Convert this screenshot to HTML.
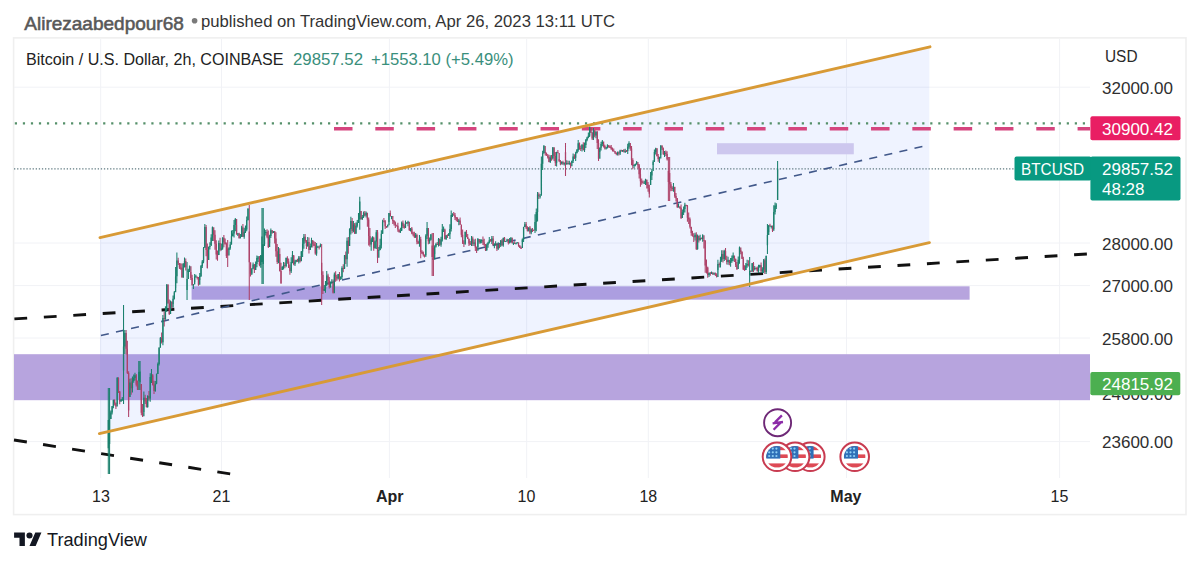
<!DOCTYPE html>
<html><head><meta charset="utf-8"><title>BTCUSD chart</title>
<style>
html,body{margin:0;padding:0;background:#fff;width:1200px;height:564px;overflow:hidden}
svg{display:block}
text{font-family:'Liberation Sans', Arial, sans-serif}
</style></head><body>
<svg width="1200" height="564" viewBox="0 0 1200 564">
<rect width="1200" height="564" fill="#fff"/>

<text x="24.3" y="29.5" font-size="18.4" fill="#585858" stroke="#585858" stroke-width="0.55" textLength="159.5" lengthAdjust="spacingAndGlyphs">Alirezaabedpour68</text>
<circle cx="194.6" cy="20.8" r="2.8" fill="#7a7a7a"/>
<text x="201" y="26.6" font-size="16.4" fill="#333" textLength="414" lengthAdjust="spacingAndGlyphs">published on TradingView.com, Apr 26, 2023 13:11 UTC</text>
<rect x="13.6" y="37.9" width="1172.4" height="476.7" fill="none" stroke="#efefef" stroke-width="1.6"/>
<line x1="100.7" y1="39" x2="100.7" y2="478" stroke="#f1f2f6" stroke-width="1"/>
<line x1="221.5" y1="39" x2="221.5" y2="478" stroke="#f1f2f6" stroke-width="1"/>
<line x1="389.4" y1="39" x2="389.4" y2="478" stroke="#f1f2f6" stroke-width="1"/>
<line x1="526.7" y1="39" x2="526.7" y2="478" stroke="#f1f2f6" stroke-width="1"/>
<line x1="648.3" y1="39" x2="648.3" y2="478" stroke="#f1f2f6" stroke-width="1"/>
<line x1="846.5" y1="39" x2="846.5" y2="478" stroke="#f1f2f6" stroke-width="1"/>
<line x1="1059.6" y1="39" x2="1059.6" y2="478" stroke="#f1f2f6" stroke-width="1"/>
<line x1="14" y1="87.2" x2="1090" y2="87.2" stroke="#f1f2f6" stroke-width="1"/>
<line x1="14" y1="243" x2="1090" y2="243" stroke="#f1f2f6" stroke-width="1"/>
<line x1="14" y1="285.6" x2="1090" y2="285.6" stroke="#f1f2f6" stroke-width="1"/>
<line x1="14" y1="338" x2="1090" y2="338" stroke="#f1f2f6" stroke-width="1"/>
<line x1="14" y1="441.6" x2="1090" y2="441.6" stroke="#f1f2f6" stroke-width="1"/>
<rect x="14" y="354.2" width="1076" height="46" fill="#b7a4de"/>
<rect x="191.6" y="286.3" width="778" height="13.4" fill="#b7a4de"/>
<polygon points="100,237.6 929.3,46.8 929.3,242.6 100,433.6" fill="rgb(41,98,255)" fill-opacity="0.075"/>
<rect x="717" y="143.2" width="136.8" height="11.1" fill="#cdc7ee"/>
<line x1="14" y1="123.3" x2="1090" y2="123.3" stroke="#55906a" stroke-width="2.2" stroke-dasharray="2.2 5.83" stroke-dashoffset="-0.82"/>
<line x1="334" y1="128.8" x2="1090" y2="128.8" stroke="#d5457e" stroke-width="3.6" stroke-dasharray="18.5 22.81"/>
<line x1="14" y1="168.9" x2="1015" y2="168.9" stroke="#5f7a80" stroke-width="1.2" stroke-dasharray="1.3 1.8"/>
<line x1="14.4" y1="318.9" x2="1087" y2="254.0" stroke="#111" stroke-width="2.9" stroke-dasharray="12.8 16.69"/>
<line x1="14" y1="440" x2="231" y2="474" stroke="#111" stroke-width="2.9" stroke-dasharray="13 16.4"/>
<line x1="100" y1="335.7" x2="929" y2="145.0" stroke="#41588a" stroke-width="1.6" stroke-dasharray="8.1 7.36" stroke-dashoffset="-0.92"/>
<path d="M114.65 399.3V405.4 M115.92 402.4V409.0 M118.46 377.2V393.1 M119.73 392.0V404.3 M126.08 330.0V354.5 M127.35 340.7V374.0 M128.62 371.2V417.1 M131.16 378.2V394.8 M136.24 374.0V386.6 M137.51 380.6V390.0 M141.32 384.0V415.2 M142.59 404.1V417.1 M145.13 394.8V404.1 M146.40 398.0V407.5 M148.94 390.9V400.8 M152.75 374.0V385.4 M154.02 380.8V394.0 M161.64 332.6V343.5 M164.18 311.5V326.5 M167.99 284.0V303.6 M169.26 299.4V315.0 M171.80 301.3V308.7 M178.15 257.8V265.0 M179.42 263.0V268.9 M180.69 263.2V269.8 M181.96 263.5V278.0 M185.77 258.4V270.4 M190.85 272.0V279.9 M192.12 274.8V285.7 M197.20 277.0V279.5 M198.47 277.0V285.7 M206.09 225.0V256.3 M207.36 243.4V268.4 M213.71 230.0V240.9 M214.98 230.3V249.8 M216.25 240.2V259.5 M217.52 250.5V260.7 M220.06 237.7V251.2 M223.87 235.0V247.3 M225.14 238.4V244.5 M226.41 242.5V258.0 M227.68 240.0V267.0 M236.57 225.0V234.5 M239.11 232.7V238.7 M242.92 224.0V237.1 M249.27 205.0V300.0 M250.54 263.0V276.5 M254.35 264.1V273.0 M259.43 255.9V266.2 M267.05 229.2V238.3 M268.32 230.6V248.0 M272.13 230.3V233.8 M274.67 231.0V243.4 M275.94 232.3V256.7 M277.21 244.0V264.0 M279.75 248.2V271.4 M281.02 262.7V284.0 M284.83 262.5V268.3 M287.37 256.2V263.8 M288.64 258.4V267.9 M289.91 264.6V274.7 M293.72 256.0V265.3 M297.53 258.7V261.7 M300.07 256.1V262.4 M305.15 234.0V242.7 M306.42 240.0V249.0 M308.96 237.5V253.4 M312.77 241.0V247.5 M314.04 241.2V246.0 M315.31 242.1V254.7 M319.12 245.8V249.5 M321.66 244.0V305.0 M322.93 271.3V294.0 M328.01 273.7V284.9 M329.28 276.9V288.6 M333.09 279.6V293.5 M335.63 271.2V281.8 M336.90 274.9V280.7 M339.44 272.0V281.4 M343.25 264.3V272.3 M345.79 251.4V263.9 M348.33 237.0V253.7 M352.14 218.0V233.3 M354.68 223.1V234.0 M361.03 211.0V219.8 M364.84 211.0V216.3 M367.38 215.0V226.8 M368.65 217.6V245.4 M369.92 227.9V246.7 M373.73 236.7V250.8 M377.54 230.0V263.0 M383.89 217.9V221.8 M385.16 220.1V229.1 M386.43 226.1V228.0 M390.24 210.5V216.5 M392.78 220.0V223.9 M394.05 220.1V225.6 M395.32 221.6V227.9 M396.59 224.7V225.7 M397.86 222.7V231.7 M399.13 229.5V232.8 M402.94 220.4V228.0 M404.21 224.3V228.7 M406.75 222.0V223.8 M409.29 226.0V230.9 M411.83 227.1V234.3 M413.10 231.7V236.3 M414.37 231.7V238.0 M416.91 233.8V244.3 M418.18 240.8V244.1 M420.72 236.7V258.3 M421.99 250.2V254.0 M423.26 251.5V256.6 M424.53 254.6V257.5 M428.34 230.0V244.3 M432.15 233.0V276.0 M433.42 233.0V276.0 M437.23 241.9V244.7 M439.77 238.4V245.9 M444.85 230.0V239.5 M447.39 234.2V238.0 M453.74 212.0V215.5 M455.01 213.0V220.1 M456.28 217.1V221.2 M457.55 217.3V222.1 M460.09 217.6V225.1 M461.36 226.0V237.2 M462.63 229.5V243.9 M463.90 240.2V247.1 M466.44 230.0V237.2 M467.71 234.0V239.0 M468.98 238.4V245.9 M470.25 241.0V245.1 M472.79 236.5V245.9 M475.33 238.7V251.1 M476.60 246.5V253.1 M479.14 238.9V243.7 M482.95 236.4V245.1 M484.22 238.7V246.3 M485.49 243.9V251.0 M490.57 239.1V241.5 M493.11 236.0V245.5 M496.92 243.0V251.0 M499.46 243.7V248.3 M502.00 238.9V246.0 M504.54 237.0V242.0 M508.35 239.0V244.4 M512.16 237.6V243.3 M514.70 241.3V244.0 M518.51 242.5V246.8 M519.78 245.2V248.1 M521.05 246.6V249.0 M526.13 221.9V229.0 M527.40 226.3V231.4 M529.94 226.0V234.2 M532.48 228.0V232.0 M533.75 229.7V230.9 M538.83 192.6V198.9 M545.18 152.0V155.6 M546.45 152.6V155.8 M547.72 153.9V158.6 M548.99 154.8V162.2 M551.53 155.1V160.7 M554.07 147.3V160.9 M555.34 151.9V166.0 M557.88 150.1V153.1 M559.15 159.0V161.9 M560.42 160.1V165.3 M562.96 160.7V164.9 M565.50 143.0V176.0 M568.04 160.7V164.4 M570.58 162.6V168.3 M574.39 154.2V159.1 M579.47 142.4V149.7 M580.74 145.5V151.0 M583.28 142.3V150.6 M590.90 128.0V133.1 M592.17 132.2V140.0 M594.71 130.0V137.3 M597.25 131.0V149.0 M598.52 139.3V161.0 M603.60 144.0V147.4 M604.87 144.8V149.5 M608.68 145.0V147.8 M609.95 145.4V148.1 M611.22 145.1V149.7 M612.49 147.6V151.4 M613.76 148.4V151.4 M615.03 150.9V154.0 M616.30 152.6V155.2 M618.84 151.6V155.5 M621.38 149.8V151.3 M623.92 149.1V152.4 M626.46 150.0V151.5 M630.27 146.0V150.8 M631.54 146.0V165.2 M632.81 158.3V169.2 M637.89 164.0V168.4 M639.16 164.0V178.5 M640.43 168.2V186.8 M641.70 178.5V184.7 M642.97 180.5V183.0 M646.78 180.0V188.4 M648.05 182.1V191.7 M649.32 184.7V197.4 M656.94 148.0V156.3 M658.21 154.0V161.7 M662.02 145.0V149.9 M663.29 147.4V155.0 M665.83 150.4V156.1 M667.10 151.3V160.4 M668.37 157.0V201.0 M669.64 157.0V201.0 M670.91 182.0V191.2 M672.18 186.3V191.1 M674.72 187.0V197.8 M675.99 193.1V201.5 M677.26 198.0V208.0 M679.80 206.4V208.8 M681.07 204.4V219.0 M686.15 205.0V206.2 M687.42 205.0V221.8 M688.69 212.6V224.1 M689.96 217.6V228.6 M691.23 227.0V235.7 M692.50 230.8V236.5 M693.77 233.3V242.1 M696.31 232.2V250.0 M698.85 235.7V242.6 M701.39 237.6V239.2 M703.93 240.0V248.5 M705.20 240.0V272.7 M706.47 259.4V273.6 M707.74 268.0V277.8 M710.28 271.9V275.8 M712.82 272.0V275.0 M715.36 272.5V275.9 M716.63 273.2V277.6 M719.17 262.6V267.5 M722.98 250.3V262.5 M725.52 248.0V259.7 M726.79 255.8V264.4 M729.33 259.7V265.2 M734.41 256.0V262.0 M735.68 258.4V267.1 M736.95 262.0V270.0 M740.76 250.0V254.3 M742.03 251.3V259.0 M743.30 256.7V270.1 M744.57 265.2V270.7 M748.38 260.2V266.5 M750.92 270.2V271.6 M753.46 261.9V272.0 M756.00 267.3V269.4 M757.27 266.6V271.8 M761.08 262.4V271.8 M764.89 258.5V274.0 M769.97 223.8V226.6 M772.51 225.6V231.9" stroke="#ad4168" stroke-width="1.05" fill="none"/>
<path d="M108.30 388.0V474.0 M109.57 388.0V474.0 M110.84 410.5V419.0 M112.11 406.0V414.5 M113.38 399.5V408.3 M117.19 377.0V404.0 M121.00 399.3V401.8 M122.27 396.9V400.9 M123.54 305.0V404.0 M124.81 330.0V354.1 M129.89 378.8V397.0 M132.43 376.5V392.6 M133.70 374.6V382.8 M134.97 372.7V380.6 M138.78 361.0V390.0 M140.05 361.0V390.0 M143.86 391.5V412.0 M147.67 395.2V407.8 M150.21 373.3V401.8 M151.48 369.0V383.0 M155.29 381.0V391.8 M156.56 373.6V384.2 M157.83 362.6V374.0 M159.10 347.6V365.5 M160.37 337.0V347.8 M162.91 315.0V345.3 M165.45 306.2V319.7 M166.72 284.0V311.9 M170.53 300.5V310.0 M173.07 295.6V304.0 M174.34 290.9V299.6 M175.61 266.9V288.0 M176.88 252.6V283.2 M183.23 263.1V277.9 M184.50 257.4V267.4 M187.04 262.0V300.0 M188.31 268.7V272.0 M189.58 265.4V272.0 M193.39 283.9V289.0 M194.66 274.0V282.0 M195.93 274.8V276.9 M199.74 273.0V280.0 M201.01 265.0V277.0 M202.28 260.1V268.0 M203.55 247.0V263.3 M204.82 224.0V247.0 M208.63 246.7V260.0 M209.90 242.2V249.5 M211.17 234.3V245.0 M212.44 226.6V241.0 M218.79 240.4V255.0 M221.33 243.6V250.5 M222.60 237.3V249.8 M228.95 247.2V250.0 M230.22 241.7V249.7 M231.49 230.4V244.6 M232.76 230.0V236.3 M234.03 220.0V237.6 M235.30 218.0V231.3 M237.84 233.1V236.0 M240.38 234.1V238.5 M241.65 225.7V237.0 M244.19 227.8V238.7 M245.46 225.5V232.9 M246.73 216.5V231.3 M248.00 208.0V220.4 M251.81 268.3V275.1 M253.08 262.5V269.1 M255.62 261.5V270.0 M256.89 255.6V267.2 M258.16 255.9V261.9 M260.70 255.1V267.8 M261.97 208.0V284.0 M263.24 208.0V284.0 M264.51 228.5V246.0 M265.78 230.1V235.6 M269.59 234.8V243.0 M270.86 228.5V237.9 M273.40 231.0V232.9 M278.48 247.0V263.3 M282.29 266.2V270.0 M283.56 262.1V269.6 M286.10 257.6V267.2 M291.18 257.2V272.9 M292.45 251.0V263.3 M294.99 259.7V265.9 M296.26 259.8V262.2 M298.80 256.0V263.4 M301.34 250.9V257.0 M302.61 237.9V257.0 M303.88 233.9V248.7 M307.69 237.1V246.7 M310.23 243.5V250.0 M311.50 237.7V247.5 M316.58 243.0V255.8 M317.85 245.8V246.9 M320.39 243.5V247.3 M324.20 284.9V291.0 M325.47 280.9V292.7 M326.74 271.0V286.0 M330.55 281.4V287.8 M331.82 279.3V283.6 M334.36 272.5V293.2 M338.17 273.9V279.6 M340.71 276.2V279.9 M341.98 266.2V279.0 M344.52 254.9V269.0 M347.06 237.5V266.7 M349.60 228.3V240.0 M350.87 216.8V234.6 M353.41 220.9V232.3 M355.95 222.4V233.9 M357.22 220.0V227.5 M358.49 213.0V222.9 M359.76 196.7V229.7 M362.30 214.9V220.0 M363.57 211.5V218.0 M366.11 211.6V217.5 M371.19 237.4V250.7 M372.46 236.2V242.1 M375.00 240.5V248.6 M376.27 230.0V248.9 M378.81 247.1V251.0 M380.08 238.7V250.3 M381.35 230.3V248.5 M382.62 219.7V233.7 M387.70 224.6V227.6 M388.97 212.9V222.0 M391.51 215.9V219.3 M400.40 227.8V233.0 M401.67 221.5V230.0 M405.48 220.6V228.0 M408.02 220.8V226.3 M410.56 228.1V231.6 M415.64 233.0V238.0 M419.45 235.0V246.8 M425.80 234.2V255.0 M427.07 222.0V238.9 M429.61 237.4V243.7 M430.88 233.9V240.6 M434.69 245.2V254.0 M435.96 242.8V247.4 M438.50 238.0V246.6 M441.04 236.7V246.7 M442.31 224.0V241.5 M443.58 226.4V232.0 M446.12 235.2V240.0 M448.66 233.0V235.9 M449.93 224.3V239.0 M451.20 210.5V231.6 M452.47 213.3V217.0 M458.82 219.1V225.2 M465.17 231.5V244.8 M471.52 235.9V245.9 M474.06 239.4V246.1 M477.87 238.1V247.0 M480.41 239.3V243.4 M481.68 239.3V243.2 M486.76 243.5V251.0 M488.03 241.8V247.8 M489.30 236.9V243.6 M491.84 236.0V244.0 M494.38 243.2V248.3 M495.65 241.2V245.0 M498.19 242.2V250.1 M500.73 239.9V247.0 M503.27 237.6V246.8 M505.81 240.9V241.7 M507.08 238.7V241.5 M509.62 238.0V243.5 M510.89 237.0V242.6 M513.43 242.2V244.9 M515.97 242.7V244.6 M517.24 242.0V242.9 M522.32 238.6V242.0 M523.59 226.8V242.0 M524.86 222.0V227.1 M528.67 227.3V231.4 M531.21 228.4V234.3 M535.02 214.2V233.0 M536.29 208.4V231.2 M537.56 191.9V221.4 M540.10 193.9V198.6 M541.37 156.6V190.0 M542.64 150.8V170.0 M543.91 145.0V153.8 M550.26 155.2V163.0 M552.80 146.9V159.4 M556.61 151.8V166.6 M561.69 161.2V164.5 M564.23 162.6V165.5 M566.77 160.2V164.5 M569.31 160.7V164.7 M571.85 160.5V163.0 M573.12 153.6V163.0 M575.66 151.8V160.9 M576.93 149.0V153.3 M578.20 140.1V151.8 M582.01 144.2V151.6 M584.55 142.5V151.9 M585.82 139.0V147.9 M587.09 136.8V141.2 M588.36 132.4V138.2 M589.63 126.6V137.1 M593.44 128.0V140.0 M595.98 131.0V138.3 M599.79 147.4V152.0 M601.06 141.8V150.5 M602.33 140.0V146.2 M606.14 146.9V149.4 M607.41 144.2V148.5 M617.57 151.4V155.4 M620.11 149.7V155.1 M622.65 149.9V152.1 M625.19 148.8V153.0 M627.73 143.8V154.1 M629.00 141.3V148.8 M634.08 164.2V167.9 M635.35 163.5V166.2 M636.62 161.0V164.8 M644.24 180.7V183.8 M645.51 178.7V185.0 M650.59 172.0V185.0 M651.86 168.7V179.9 M653.13 160.3V165.0 M654.40 149.4V162.0 M655.67 147.7V154.5 M659.48 156.8V162.9 M660.75 145.0V155.0 M664.56 151.1V156.9 M673.45 182.9V191.7 M678.53 203.4V207.3 M682.34 209.6V215.0 M683.61 206.6V215.0 M684.88 202.8V212.4 M695.04 232.7V240.4 M697.58 234.6V249.8 M700.12 234.7V240.5 M702.66 234.3V241.7 M709.01 272.7V276.9 M711.55 271.5V273.9 M714.09 272.5V274.9 M717.90 259.8V270.0 M720.44 256.7V267.4 M721.71 250.3V262.1 M724.25 249.8V260.9 M728.06 256.8V264.8 M730.60 257.9V266.7 M731.87 255.4V262.8 M733.14 252.6V261.3 M738.22 256.6V265.0 M739.49 246.5V263.7 M745.84 263.0V270.0 M747.11 259.8V267.7 M749.65 257.0V287.0 M752.19 263.1V271.7 M754.73 266.1V270.4 M758.54 264.8V273.0 M759.81 264.8V267.8 M762.35 267.3V273.0 M763.62 259.0V272.9 M766.16 255.4V274.0 M767.43 224.0V254.0 M768.70 225.0V232.0 M771.24 225.4V228.5 M773.78 205.3V229.0 M775.05 202.6V214.5 M776.32 203.2V209.0 M777.60 161.0V200.0" stroke="#1a806d" stroke-width="1.05" fill="none"/>
<path d="M114.65 400.0V403.5 M115.92 403.5V406.6 M118.46 378.0V391.0 M119.73 391.0V401.6 M126.08 333.1V348.7 M127.35 348.7V373.0 M128.62 373.0V410.6 M131.16 382.5V388.2 M136.24 375.3V384.8 M137.51 384.8V389.8 M141.32 384.0V412.8 M142.59 412.8V416.3 M145.13 397.7V401.6 M146.40 401.6V407.0 M148.94 396.0V398.5 M152.75 375.2V385.1 M154.02 385.1V391.0 M161.64 338.0V342.2 M164.18 317.9V319.1 M167.99 285.0V303.5 M169.26 303.5V314.0 M171.80 302.0V307.6 M178.15 260.4V263.2 M179.42 263.2V267.5 M180.69 267.5V268.5 M181.96 267.8V277.0 M185.77 261.0V267.2 M190.85 266.2V278.1 M192.12 278.1V285.0 M197.20 276.4V278.0 M198.47 278.0V284.7 M206.09 227.1V250.0 M207.36 250.0V268.1 M213.71 227.3V234.8 M214.98 234.8V243.8 M216.25 243.8V254.6 M217.52 254.6V255.6 M220.06 243.1V249.7 M223.87 237.7V242.2 M225.14 242.2V243.7 M226.41 243.7V256.1 M227.68 248.4V255.6 M236.57 219.0V234.4 M239.11 233.6V238.1 M242.92 227.6V236.7 M249.27 231.6V262.3 M250.54 262.3V273.7 M254.35 264.5V269.9 M259.43 257.5V264.9 M267.05 232.0V236.7 M268.32 236.7V247.0 M272.13 230.3V232.8 M274.67 231.2V238.5 M275.94 238.5V251.3 M277.21 251.3V261.9 M279.75 254.1V271.0 M281.02 271.0V283.0 M284.83 264.9V265.9 M287.37 258.1V261.6 M288.64 261.6V267.8 M289.91 267.8V271.2 M293.72 254.9V264.3 M297.53 260.2V261.7 M300.07 257.4V261.2 M305.15 236.7V241.1 M306.42 241.1V246.1 M308.96 241.9V249.9 M312.77 240.0V244.3 M314.04 244.3V245.5 M315.31 245.5V253.6 M319.12 246.7V247.7 M321.66 262.7V274.9 M322.93 274.9V290.7 M328.01 275.4V280.7 M329.28 280.7V286.9 M333.09 282.2V292.7 M335.63 274.5V276.7 M336.90 276.7V278.5 M339.44 274.1V278.7 M343.25 267.9V268.9 M345.79 255.2V259.2 M348.33 240.7V246.0 M352.14 220.9V231.1 M354.68 224.6V233.4 M361.03 211.0V219.1 M364.84 213.3V215.6 M367.38 212.7V219.6 M368.65 219.6V235.9 M369.92 235.9V244.5 M373.73 237.7V248.2 M377.54 232.3V257.8 M383.89 221.2V222.2 M385.16 221.3V226.3 M386.43 226.3V227.3 M390.24 213.0V216.3 M392.78 216.1V221.0 M394.05 221.0V222.5 M395.32 222.5V225.6 M396.59 225.6V226.6 M397.86 225.7V229.6 M399.13 229.6V232.0 M402.94 222.7V225.9 M404.21 225.9V227.8 M406.75 222.7V223.7 M409.29 221.7V230.1 M411.83 228.4V233.6 M413.10 233.6V234.6 M414.37 234.3V237.0 M416.91 235.1V241.7 M418.18 241.7V243.2 M420.72 239.2V252.1 M421.99 252.1V253.1 M423.26 252.6V254.7 M424.53 254.7V256.8 M428.34 228.0V241.2 M432.15 245.4V257.1 M433.42 248.0V259.6 M437.23 244.1V245.1 M439.77 239.0V244.8 M444.85 228.8V239.0 M447.39 235.2V236.2 M453.74 214.4V215.4 M455.01 215.2V217.5 M456.28 217.5V218.6 M457.55 218.6V222.0 M460.09 220.5V224.6 M461.36 224.6V234.7 M462.63 234.7V242.7 M463.90 242.7V243.8 M466.44 232.0V237.1 M467.71 237.1V238.9 M468.98 238.9V243.5 M470.25 243.5V244.5 M472.79 238.6V243.8 M475.33 242.4V247.4 M476.60 247.4V250.8 M479.14 239.0V242.2 M482.95 240.1V242.4 M484.22 242.4V244.5 M485.49 244.5V250.0 M490.57 240.3V241.4 M493.11 238.6V245.1 M496.92 244.5V248.7 M499.46 244.3V245.5 M502.00 240.6V245.2 M504.54 238.0V241.6 M508.35 239.6V242.9 M512.16 238.3V243.3 M514.70 243.1V244.1 M518.51 242.6V245.5 M519.78 245.5V247.7 M521.05 247.7V248.7 M526.13 224.2V227.6 M527.40 227.6V230.7 M529.94 227.4V232.6 M532.48 229.4V230.4 M533.75 229.8V230.8 M538.83 194.4V196.2 M545.18 146.0V153.0 M546.45 153.0V155.8 M547.72 155.8V156.9 M548.99 156.9V162.0 M551.53 157.5V158.5 M554.07 147.5V156.0 M555.34 156.0V162.8 M557.88 152.2V153.2 M559.15 153.0V161.1 M560.42 161.1V163.6 M562.96 162.1V163.8 M565.50 152.1V164.4 M568.04 163.1V164.1 M570.58 163.2V166.2 M574.39 156.4V157.8 M579.47 143.2V148.1 M580.74 148.1V149.1 M583.28 144.8V150.0 M590.90 127.6V132.5 M592.17 132.5V138.5 M594.71 130.6V135.4 M597.25 132.0V143.0 M598.52 143.0V158.8 M603.60 141.5V146.1 M604.87 146.1V148.5 M608.68 145.4V146.8 M609.95 146.8V147.8 M611.22 147.2V149.3 M612.49 149.3V150.6 M613.76 150.6V151.6 M615.03 151.3V152.8 M616.30 152.8V153.9 M618.84 152.5V153.5 M621.38 150.6V151.6 M623.92 149.9V151.8 M626.46 150.9V151.9 M630.27 143.1V148.6 M631.54 148.6V160.1 M632.81 160.1V165.8 M637.89 162.1V165.2 M639.16 165.2V174.2 M640.43 174.2V181.2 M641.70 181.2V182.4 M642.97 182.4V183.4 M646.78 179.4V184.8 M648.05 184.8V188.2 M649.32 188.2V193.7 M656.94 148.5V156.2 M658.21 156.2V159.1 M662.02 146.0V148.2 M663.29 148.2V154.0 M665.83 152.7V154.1 M667.10 154.1V159.2 M668.37 171.1V182.1 M669.64 173.1V184.2 M670.91 184.2V187.9 M672.18 187.9V189.1 M674.72 186.8V196.1 M675.99 196.1V198.2 M677.26 198.2V207.0 M679.80 206.4V207.8 M681.07 207.8V218.0 M686.15 204.7V206.0 M687.42 206.0V217.7 M688.69 217.7V219.2 M689.96 219.2V226.7 M691.23 226.7V233.1 M692.50 233.1V236.3 M693.77 236.3V237.3 M696.31 234.7V249.0 M698.85 235.7V240.2 M701.39 238.0V239.1 M703.93 235.2V241.0 M705.20 241.0V265.6 M706.47 265.6V266.7 M707.74 266.7V275.1 M710.28 272.8V273.8 M712.82 272.9V273.9 M715.36 273.2V274.4 M716.63 274.4V277.0 M719.17 264.1V265.1 M722.98 254.1V259.1 M725.52 250.9V259.5 M726.79 259.5V262.0 M729.33 260.1V263.0 M734.41 255.6V259.2 M735.68 259.2V265.1 M736.95 265.1V269.0 M740.76 247.5V252.1 M742.03 252.1V258.7 M743.30 258.7V269.5 M744.57 269.5V270.5 M748.38 263.9V264.9 M750.92 271.0V272.0 M753.46 263.3V269.2 M756.00 267.9V268.9 M757.27 268.1V270.9 M761.08 265.3V271.6 M764.89 260.3V272.1 M769.97 225.6V226.6 M772.51 225.9V230.8" stroke="#ad4168" stroke-width="1.3" fill="none"/>
<path d="M108.30 420.0V448.3 M109.57 419.0V444.1 M110.84 412.4V419.0 M112.11 406.2V412.4 M113.38 400.0V406.2 M117.19 378.0V406.6 M121.00 399.5V401.6 M122.27 398.7V399.7 M123.54 346.4V370.6 M124.81 333.1V346.4 M129.89 382.5V397.0 M132.43 381.0V388.2 M133.70 378.1V381.0 M134.97 375.3V378.1 M138.78 371.9V380.7 M140.05 371.4V382.2 M143.86 397.7V416.3 M147.67 396.0V407.0 M150.21 377.0V398.5 M151.48 375.2V377.0 M155.29 383.8V391.0 M156.56 374.0V383.8 M157.83 364.1V374.0 M159.10 347.6V364.1 M160.37 338.0V347.6 M162.91 317.9V342.2 M165.45 309.9V319.1 M166.72 285.0V309.9 M170.53 302.0V314.0 M173.07 298.7V307.6 M174.34 292.2V298.7 M175.61 276.2V292.2 M176.88 260.4V276.2 M183.23 264.0V277.0 M184.50 261.0V264.0 M187.04 279.1V290.0 M188.31 270.6V279.1 M189.58 266.2V270.6 M193.39 284.6V285.6 M194.66 276.5V284.6 M195.93 276.4V277.4 M199.74 276.1V284.7 M201.01 266.0V276.1 M202.28 261.5V266.0 M203.55 248.0V261.5 M204.82 227.1V248.0 M208.63 246.7V260.0 M209.90 245.9V246.9 M211.17 237.5V245.9 M212.44 227.3V237.5 M218.79 243.1V255.1 M221.33 248.4V249.7 M222.60 237.7V248.4 M228.95 248.2V255.6 M230.22 244.4V248.2 M231.49 236.2V244.4 M232.76 233.5V236.2 M234.03 225.0V233.5 M235.30 219.0V225.0 M237.84 233.6V234.6 M240.38 236.7V238.1 M241.65 227.6V236.7 M244.19 231.7V236.7 M245.46 229.6V231.7 M246.73 220.0V229.6 M248.00 209.0V220.0 M251.81 268.4V273.7 M253.08 264.5V268.4 M255.62 263.9V269.9 M256.89 258.0V263.9 M258.16 257.5V258.5 M260.70 255.4V264.9 M261.97 236.5V262.1 M263.24 244.2V264.0 M264.51 232.7V244.2 M265.78 232.0V233.0 M269.59 236.0V247.0 M270.86 230.3V236.0 M273.40 231.2V232.8 M278.48 254.1V261.9 M282.29 266.7V270.0 M283.56 264.9V266.7 M286.10 258.1V265.9 M291.18 262.0V271.2 M292.45 254.9V262.0 M294.99 261.6V264.3 M296.26 260.2V261.6 M298.80 257.4V261.7 M301.34 251.6V261.2 M302.61 243.8V251.6 M303.88 236.7V243.8 M307.69 241.9V246.1 M310.23 246.0V249.9 M311.50 240.0V246.0 M316.58 246.7V253.6 M317.85 246.7V247.7 M320.39 245.1V246.7 M324.20 289.0V290.7 M325.47 285.3V289.0 M326.74 275.4V285.3 M330.55 282.3V286.9 M331.82 282.2V283.2 M334.36 274.5V292.7 M338.17 274.1V278.5 M340.71 277.1V278.7 M341.98 267.9V277.1 M344.52 255.2V268.6 M347.06 240.7V259.2 M349.60 228.9V246.0 M350.87 220.9V228.9 M353.41 224.6V231.1 M355.95 225.7V233.4 M357.22 222.8V225.7 M358.49 219.4V222.8 M359.76 201.6V219.4 M362.30 216.9V219.1 M363.57 213.3V216.9 M366.11 212.7V215.6 M371.19 239.4V244.5 M372.46 237.7V239.4 M375.00 241.5V248.2 M376.27 232.3V241.5 M378.81 250.0V257.8 M380.08 245.2V250.0 M381.35 233.7V245.2 M382.62 221.2V233.7 M387.70 225.3V226.3 M388.97 213.0V225.3 M391.51 216.1V217.1 M400.40 230.9V232.0 M401.67 222.7V230.9 M405.48 222.7V227.8 M408.02 221.7V223.6 M410.56 228.4V230.1 M415.64 235.1V237.0 M419.45 239.2V243.2 M425.80 235.8V256.8 M427.07 228.0V235.8 M429.61 239.8V241.2 M430.88 234.4V239.8 M434.69 246.5V259.6 M435.96 244.1V246.5 M438.50 239.0V244.4 M441.04 239.4V244.8 M442.31 229.2V239.4 M443.58 228.8V229.8 M446.12 235.2V239.0 M448.66 234.2V235.8 M449.93 229.0V234.2 M451.20 215.0V229.0 M452.47 214.4V215.4 M458.82 220.5V222.0 M465.17 232.0V243.8 M471.52 238.6V243.9 M474.06 242.4V243.8 M477.87 239.0V250.8 M480.41 241.1V242.2 M481.68 240.1V241.1 M486.76 244.8V250.0 M488.03 242.8V244.8 M489.30 240.3V242.8 M491.84 238.6V241.4 M494.38 244.6V245.6 M495.65 244.5V245.5 M498.19 244.3V248.7 M500.73 240.6V245.5 M503.27 238.0V245.2 M505.81 241.0V242.0 M507.08 239.6V241.0 M509.62 240.4V242.9 M510.89 238.3V240.4 M513.43 243.1V244.1 M515.97 242.8V243.8 M517.24 242.6V243.6 M522.32 239.4V248.0 M523.59 227.1V239.4 M524.86 224.2V227.1 M528.67 227.4V230.7 M531.21 229.4V232.6 M535.02 222.0V230.3 M536.29 211.9V222.0 M537.56 194.4V211.9 M540.10 195.8V196.8 M541.37 163.8V195.8 M542.64 152.9V163.8 M543.91 146.0V152.9 M550.26 157.5V162.0 M552.80 147.5V158.2 M556.61 152.2V162.8 M561.69 162.1V163.6 M564.23 162.8V163.8 M566.77 163.1V164.4 M569.31 163.2V164.2 M571.85 160.9V166.2 M573.12 156.4V160.9 M575.66 153.2V157.8 M576.93 150.0V153.2 M578.20 143.2V150.0 M582.01 144.8V148.7 M584.55 145.0V150.0 M585.82 140.0V145.0 M587.09 137.6V140.0 M588.36 135.8V137.6 M589.63 127.6V135.8 M593.44 130.6V138.5 M595.98 132.0V135.4 M599.79 147.8V158.8 M601.06 144.0V147.8 M602.33 141.5V144.0 M606.14 147.4V148.5 M607.41 145.4V147.4 M617.57 152.5V153.9 M620.11 150.6V153.4 M622.65 149.9V151.2 M625.19 150.9V151.9 M627.73 146.7V151.1 M629.00 143.1V146.7 M634.08 165.1V166.1 M635.35 164.1V165.1 M636.62 162.1V164.1 M644.24 182.7V183.7 M645.51 179.4V182.7 M650.59 175.4V185.0 M651.86 170.9V175.4 M653.13 161.7V170.9 M654.40 152.0V161.7 M655.67 148.5V152.0 M659.48 158.5V159.5 M660.75 146.0V158.5 M664.56 152.7V154.0 M673.45 186.8V189.1 M678.53 206.4V207.4 M682.34 212.2V218.0 M683.61 209.1V212.2 M684.88 204.7V209.1 M695.04 234.7V237.3 M697.58 235.7V249.0 M700.12 238.0V240.2 M702.66 235.2V239.1 M709.01 272.8V275.1 M711.55 272.9V273.9 M714.09 273.2V274.2 M717.90 264.1V277.0 M720.44 260.5V264.7 M721.71 254.1V260.5 M724.25 250.9V259.1 M728.06 260.1V262.0 M730.60 260.9V263.0 M731.87 258.1V260.9 M733.14 255.6V258.1 M738.22 259.8V269.0 M739.49 247.5V259.8 M745.84 265.4V269.9 M747.11 263.9V265.4 M749.65 271.0V275.2 M752.19 263.3V271.5 M754.73 267.9V269.2 M758.54 267.0V270.9 M759.81 265.3V267.0 M762.35 269.6V271.6 M763.62 260.3V269.6 M766.16 256.1V272.1 M767.43 235.1V245.3 M768.70 225.6V235.1 M771.24 225.9V226.9 M773.78 212.1V230.8 M775.05 205.8V212.1 M776.32 205.6V206.6 M777.60 168.8V200.0" stroke="#1a806d" stroke-width="1.3" fill="none"/>
<line x1="100" y1="237.6" x2="930" y2="46.8" stroke="#d89a36" stroke-width="2.9" stroke-linecap="round"/>
<line x1="99.4" y1="433.6" x2="929.4" y2="242.6" stroke="#d89a36" stroke-width="2.9" stroke-linecap="round"/>
<text x="1105" y="62.3" font-size="16" fill="#2a2a2a" textLength="32.5" lengthAdjust="spacingAndGlyphs">USD</text>
<text x="1102" y="93.8" font-size="16" fill="#2f2f2f" textLength="71" lengthAdjust="spacingAndGlyphs">32000.00</text>
<text x="1102" y="249.6" font-size="16" fill="#2f2f2f" textLength="71" lengthAdjust="spacingAndGlyphs">28000.00</text>
<text x="1102" y="292.3" font-size="16" fill="#2f2f2f" textLength="71" lengthAdjust="spacingAndGlyphs">27000.00</text>
<text x="1102" y="344.8" font-size="16" fill="#2f2f2f" textLength="71" lengthAdjust="spacingAndGlyphs">25800.00</text>
<text x="1102" y="400.2" font-size="16" fill="#2f2f2f" textLength="71" lengthAdjust="spacingAndGlyphs">24600.00</text>
<text x="1102" y="448.3" font-size="16" fill="#2f2f2f" textLength="71" lengthAdjust="spacingAndGlyphs">23600.00</text>
<rect x="1090.4" y="116.2" width="90.1" height="24" rx="2" fill="#e91e63"/>
<text x="1102" y="134.5" font-size="16" fill="#fff" textLength="71" lengthAdjust="spacingAndGlyphs">30900.42</text>
<rect x="1014.5" y="156.5" width="77" height="24" rx="2" fill="#089981"/>
<rect x="1090.4" y="156.5" width="90.1" height="44" rx="2" fill="#089981"/>
<text x="1021" y="175" font-size="16" fill="#fff" textLength="63" lengthAdjust="spacingAndGlyphs">BTCUSD</text>
<text x="1102" y="175" font-size="16" fill="#fff" textLength="71" lengthAdjust="spacingAndGlyphs">29857.52</text>
<text x="1102" y="194.8" font-size="16" fill="#fff" textLength="42.5" lengthAdjust="spacingAndGlyphs">48:28</text>
<rect x="1090.3" y="372" width="90" height="23.2" rx="2" fill="#4caf50"/>
<text x="1102" y="390.2" font-size="16" fill="#fff" textLength="71" lengthAdjust="spacingAndGlyphs">24815.92</text>
<text x="26" y="64.8" font-size="16" fill="#222" textLength="257.5" lengthAdjust="spacingAndGlyphs">Bitcoin / U.S. Dollar, 2h, COINBASE</text>
<text x="293" y="64.8" font-size="16" fill="#3a8f7c" textLength="70" lengthAdjust="spacingAndGlyphs">29857.52</text>
<text x="371" y="64.8" font-size="16" fill="#3a8f7c" textLength="142.5" lengthAdjust="spacingAndGlyphs">+1553.10 (+5.49%)</text>
<text x="101" y="501.5" font-size="16" fill="#222" text-anchor="middle">13</text>
<text x="221.5" y="501.5" font-size="16" fill="#222" text-anchor="middle">21</text>
<text x="389.7" y="501.5" font-size="16" fill="#222" text-anchor="middle" font-weight="700">Apr</text>
<text x="526.5" y="501.5" font-size="16" fill="#222" text-anchor="middle">10</text>
<text x="648.3" y="501.5" font-size="16" fill="#222" text-anchor="middle">18</text>
<text x="845.9" y="501.5" font-size="16" fill="#222" text-anchor="middle" font-weight="700">May</text>
<text x="1059.4" y="501.5" font-size="16" fill="#222" text-anchor="middle">15</text>
<circle cx="777.6" cy="422.7" r="13.5" fill="#fff" stroke="#6e2876" stroke-width="1.9"/>
<path d="M781.9 415.4L774.9 422.4M772.6 423.3L783.0 422.0M780.6 422.6L773.6 429.7" fill="none" stroke="#8c2ba8" stroke-width="2.3" stroke-linecap="butt"/>
<g transform="translate(854.7,456.8)"><circle r="14.3" fill="#fff" stroke="#c83b50" stroke-width="2"/><clipPath id="fc854"><circle r="10.8"/></clipPath><g clip-path="url(#fc854)"><rect x="-11" y="-11" width="22" height="22" fill="#fff"/><rect x="-11" y="-11" width="22" height="4.4" fill="#de4a55"/><rect x="-11" y="-2.4" width="22" height="3.6" fill="#de4a55"/><rect x="-11" y="6.6" width="22" height="4.4" fill="#de4a55"/><rect x="-11" y="-11" width="14.3" height="12.8" fill="#2f70b8"/><circle cx="-7.8" cy="-8.2" r="1.1" fill="#8fd0f5"/><circle cx="-7.8" cy="-4.5" r="1.1" fill="#8fd0f5"/><circle cx="-7.8" cy="-0.8" r="1.1" fill="#8fd0f5"/><circle cx="-4.2" cy="-8.2" r="1.1" fill="#8fd0f5"/><circle cx="-4.2" cy="-4.5" r="1.1" fill="#8fd0f5"/><circle cx="-4.2" cy="-0.8" r="1.1" fill="#8fd0f5"/><circle cx="-0.6" cy="-8.2" r="1.1" fill="#8fd0f5"/><circle cx="-0.6" cy="-4.5" r="1.1" fill="#8fd0f5"/><circle cx="-0.6" cy="-0.8" r="1.1" fill="#8fd0f5"/></g></g>
<g transform="translate(810.3,456.8)"><circle r="14.3" fill="#fff" stroke="#c83b50" stroke-width="2"/><clipPath id="fc810"><circle r="10.8"/></clipPath><g clip-path="url(#fc810)"><rect x="-11" y="-11" width="22" height="22" fill="#fff"/><rect x="-11" y="-11" width="22" height="4.4" fill="#de4a55"/><rect x="-11" y="-2.4" width="22" height="3.6" fill="#de4a55"/><rect x="-11" y="6.6" width="22" height="4.4" fill="#de4a55"/><rect x="-11" y="-11" width="14.3" height="12.8" fill="#2f70b8"/><circle cx="-7.8" cy="-8.2" r="1.1" fill="#8fd0f5"/><circle cx="-7.8" cy="-4.5" r="1.1" fill="#8fd0f5"/><circle cx="-7.8" cy="-0.8" r="1.1" fill="#8fd0f5"/><circle cx="-4.2" cy="-8.2" r="1.1" fill="#8fd0f5"/><circle cx="-4.2" cy="-4.5" r="1.1" fill="#8fd0f5"/><circle cx="-4.2" cy="-0.8" r="1.1" fill="#8fd0f5"/><circle cx="-0.6" cy="-8.2" r="1.1" fill="#8fd0f5"/><circle cx="-0.6" cy="-4.5" r="1.1" fill="#8fd0f5"/><circle cx="-0.6" cy="-0.8" r="1.1" fill="#8fd0f5"/></g></g>
<g transform="translate(795.1,456.8)"><circle r="14.3" fill="#fff" stroke="#c83b50" stroke-width="2"/><clipPath id="fc795"><circle r="10.8"/></clipPath><g clip-path="url(#fc795)"><rect x="-11" y="-11" width="22" height="22" fill="#fff"/><rect x="-11" y="-11" width="22" height="4.4" fill="#de4a55"/><rect x="-11" y="-2.4" width="22" height="3.6" fill="#de4a55"/><rect x="-11" y="6.6" width="22" height="4.4" fill="#de4a55"/><rect x="-11" y="-11" width="14.3" height="12.8" fill="#2f70b8"/><circle cx="-7.8" cy="-8.2" r="1.1" fill="#8fd0f5"/><circle cx="-7.8" cy="-4.5" r="1.1" fill="#8fd0f5"/><circle cx="-7.8" cy="-0.8" r="1.1" fill="#8fd0f5"/><circle cx="-4.2" cy="-8.2" r="1.1" fill="#8fd0f5"/><circle cx="-4.2" cy="-4.5" r="1.1" fill="#8fd0f5"/><circle cx="-4.2" cy="-0.8" r="1.1" fill="#8fd0f5"/><circle cx="-0.6" cy="-8.2" r="1.1" fill="#8fd0f5"/><circle cx="-0.6" cy="-4.5" r="1.1" fill="#8fd0f5"/><circle cx="-0.6" cy="-0.8" r="1.1" fill="#8fd0f5"/></g></g>
<g transform="translate(777,456.8)"><circle r="14.3" fill="#fff" stroke="#c83b50" stroke-width="2"/><clipPath id="fc777"><circle r="10.8"/></clipPath><g clip-path="url(#fc777)"><rect x="-11" y="-11" width="22" height="22" fill="#fff"/><rect x="-11" y="-11" width="22" height="4.4" fill="#de4a55"/><rect x="-11" y="-2.4" width="22" height="3.6" fill="#de4a55"/><rect x="-11" y="6.6" width="22" height="4.4" fill="#de4a55"/><rect x="-11" y="-11" width="14.3" height="12.8" fill="#2f70b8"/><circle cx="-7.8" cy="-8.2" r="1.1" fill="#8fd0f5"/><circle cx="-7.8" cy="-4.5" r="1.1" fill="#8fd0f5"/><circle cx="-7.8" cy="-0.8" r="1.1" fill="#8fd0f5"/><circle cx="-4.2" cy="-8.2" r="1.1" fill="#8fd0f5"/><circle cx="-4.2" cy="-4.5" r="1.1" fill="#8fd0f5"/><circle cx="-4.2" cy="-0.8" r="1.1" fill="#8fd0f5"/><circle cx="-0.6" cy="-8.2" r="1.1" fill="#8fd0f5"/><circle cx="-0.6" cy="-4.5" r="1.1" fill="#8fd0f5"/><circle cx="-0.6" cy="-0.8" r="1.1" fill="#8fd0f5"/></g></g>
<g transform="translate(14.1,529.6) scale(0.77,0.75)"><path d="M14 22H7V11H0V4h14v18zM28 22h-8l7.5-18h8L28 22z" fill="#131722"/><circle cx="20" cy="8" r="4" fill="#131722"/></g>
<text x="47" y="546.3" font-size="18" fill="#131722" textLength="100" lengthAdjust="spacingAndGlyphs">TradingView</text>
</svg></body></html>
